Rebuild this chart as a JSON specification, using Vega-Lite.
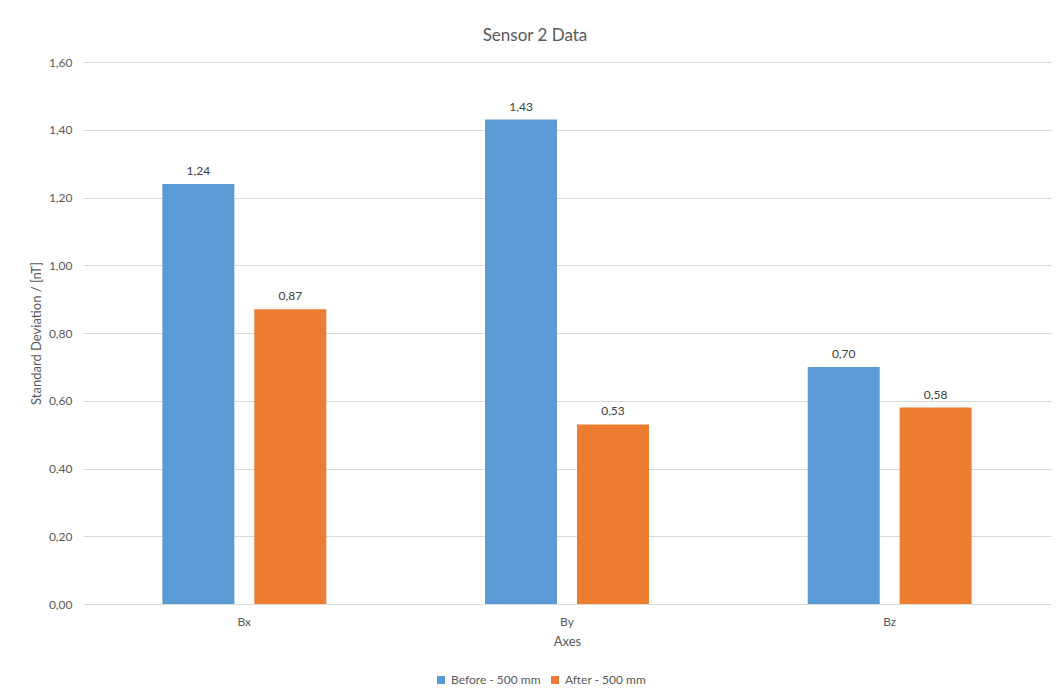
{
  "$schema": "https://vega.github.io/schema/vega-lite/v6.json",
  "width": 968,
  "height": 542,
  "autosize": {"type": "none"},
  "padding": {"left": 83, "top": 62, "right": 8, "bottom": 91},
  "background": "white",
  "title": {
    "text": "Sensor 2 Data",
    "anchor": "middle",
    "dx": -32,
    "offset": 11,
    "fontSize": 17,
    "font": "Lato",
    "fontWeight": "normal",
    "color": "#595959"
  },
  "config": {
    "locale": {
      "number": {"decimal": ",", "thousands": ".", "grouping": [3], "currency": ["", " €"]}
    },
    "view": {"stroke": null},
    "font": "Lato",
    "axis": {
      "labelFont": "Lato",
      "titleFont": "Lato",
      "labelColor": "#595959",
      "titleColor": "#595959",
      "labelFontSize": 12,
      "titleFontSize": 13,
      "titleFontWeight": "normal",
      "domain": false,
      "ticks": false,
      "gridColor": "#d9d9d9",
      "gridWidth": 1
    }
  },
  "data": {
    "values": [
      {"axis": "Bx", "series": "Before - 500 mm", "std": 1.24},
      {"axis": "Bx", "series": "After - 500 mm", "std": 0.87},
      {"axis": "By", "series": "Before - 500 mm", "std": 1.43},
      {"axis": "By", "series": "After - 500 mm", "std": 0.53},
      {"axis": "Bz", "series": "Before - 500 mm", "std": 0.70},
      {"axis": "Bz", "series": "After - 500 mm", "std": 0.58}
    ]
  },
  "encoding": {
    "x": {
      "field": "axis",
      "type": "nominal",
      "title": "Axes",
      "scale": {"paddingInner": 0.492, "paddingOuter": 0.246},
      "axis": {"labelAngle": 0, "labelPadding": 12, "titlePadding": 8, "grid": false}
    },
    "xOffset": {
      "field": "series",
      "type": "nominal",
      "sort": ["Before - 500 mm", "After - 500 mm"],
      "scale": {"paddingInner": 0.217, "paddingOuter": 0}
    },
    "y": {
      "field": "std",
      "type": "quantitative",
      "title": "Standard Deviation / [nT]",
      "scale": {"domain": [0, 1.6]},
      "axis": {"format": ".2f", "values": [0, 0.2, 0.4, 0.6, 0.8, 1.0, 1.2, 1.4, 1.6], "labelPadding": 11, "titlePadding": 5, "grid": true}
    }
  },
  "layer": [
    {
      "mark": {"type": "bar"},
      "encoding": {
        "color": {
          "field": "series",
          "type": "nominal",
          "sort": ["Before - 500 mm", "After - 500 mm"],
          "scale": {"range": ["#5b9bd5", "#ed7d31"]},
          "legend": {
            "title": null,
            "orient": "none",
            "direction": "horizontal",
            "legendX": 352,
            "legendY": 612,
            "symbolType": "square",
            "symbolSize": 64,
            "symbolStrokeWidth": 0,
            "labelFont": "Lato",
            "labelFontSize": 12,
            "labelColor": "#595959",
            "labelOffset": 4,
            "columnPadding": 8
          }
        }
      }
    },
    {
      "mark": {"type": "text", "baseline": "bottom", "dy": -6, "fontSize": 12, "font": "Lato", "color": "#404040"},
      "encoding": {
        "text": {"field": "std", "type": "quantitative", "format": ".2f"}
      }
    }
  ]
}
